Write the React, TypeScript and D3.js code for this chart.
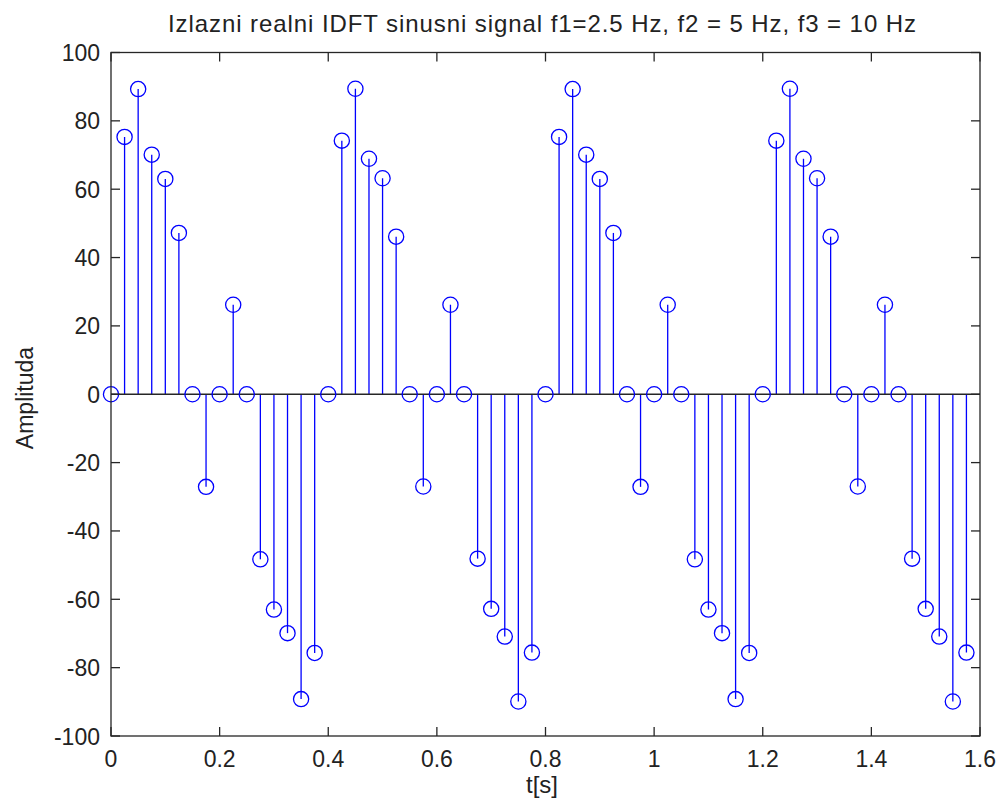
import React from "react";
import * as d3 from "d3";

const TITLE = "Izlazni realni IDFT sinusni signal f1=2.5 Hz, f2 = 5 Hz, f3 = 10 Hz";
const X_LABEL = "t[s]";
const Y_LABEL = "Amplituda";

const X_TICKS = [0, 0.2, 0.4, 0.6, 0.8, 1, 1.2, 1.4, 1.6];
const X_TICK_LABELS = ["0", "0.2", "0.4", "0.6", "0.8", "1", "1.2", "1.4", "1.6"];
const Y_TICKS = [-100, -80, -60, -40, -20, 0, 20, 40, 60, 80, 100];
const Y_TICK_LABELS = ["-100", "-80", "-60", "-40", "-20", "0", "20", "40", "60", "80", "100"];

const TIME = [
  0, 0.025, 0.05, 0.075, 0.1, 0.125, 0.15, 0.175, 0.2, 0.225, 0.25, 0.275, 0.3, 0.325, 0.35, 0.375,
  0.4, 0.425, 0.45, 0.475, 0.5, 0.525, 0.55, 0.575, 0.6, 0.625, 0.65, 0.675, 0.7, 0.725, 0.75, 0.775,
  0.8, 0.825, 0.85, 0.875, 0.9, 0.925, 0.95, 0.975, 1.0, 1.025, 1.05, 1.075, 1.1, 1.125, 1.15, 1.175,
  1.2, 1.225, 1.25, 1.275, 1.3, 1.325, 1.35, 1.375, 1.4, 1.425, 1.45, 1.475, 1.5, 1.525, 1.55, 1.575,
];

const AMPLITUDE = [
  0, 75.3, 89.3, 70.1, 63.0, 47.2, 0, -27.1, 0, 26.2, 0, -48.3, -63.0, -69.9, -89.2, -75.7,
  0, 74.2, 89.4, 68.9, 63.2, 46.1, 0, -27.0, 0, 26.2, 0, -48.1, -62.8, -70.9, -89.9, -75.6,
  0, 75.3, 89.3, 70.1, 63.0, 47.2, 0, -27.1, 0, 26.2, 0, -48.3, -63.0, -69.9, -89.2, -75.7,
  0, 74.2, 89.4, 68.9, 63.2, 46.1, 0, -27.0, 0, 26.2, 0, -48.1, -62.8, -70.9, -89.9, -75.6,
];

const W = 1001;
const H = 810;
const L = 111;
const R = 980;
const TOP = 52.5;
const BOT = 736;
const FONT = "'Liberation Sans', Arial, sans-serif";
const AXIS = "#262626";
const BLUE = "#0000ff";

export default function App() {
  const x = d3.scaleLinear().domain([0, 1.6]).range([L, R]);
  const y = d3.scaleLinear().domain([-100, 100]).range([BOT, TOP]);
  const tick = 9;
  const y0 = y(0);

  return (
    <svg
      width={W}
      height={H}
      viewBox={`0 0 ${W} ${H}`}
      style={{ position: "absolute", left: 0, top: 0, background: "#fff" }}
    >
      <rect x={0} y={0} width={W} height={H} fill="#fff" />
      {TIME.map((t, i) =>
        AMPLITUDE[i] !== 0 ? (
          <line
            key={"s" + i}
            x1={x(t)}
            x2={x(t)}
            y1={y0}
            y2={y(AMPLITUDE[i])}
            stroke={BLUE}
            strokeWidth={1.3}
          />
        ) : null
      )}
      <line x1={L} x2={R} y1={y0} y2={y0} stroke={AXIS} strokeWidth={1.3} />
      {TIME.map((t, i) => (
        <circle
          key={"c" + i}
          cx={x(t)}
          cy={y(AMPLITUDE[i])}
          r={7.6}
          fill="none"
          stroke={BLUE}
          strokeWidth={1.3}
        />
      ))}
      <rect x={L} y={TOP} width={R - L} height={BOT - TOP} fill="none" stroke={AXIS} strokeWidth={1.3} />
      {X_TICKS.map((v, i) => (
        <g key={"xt" + i}>
          <line x1={x(v)} x2={x(v)} y1={BOT} y2={BOT - tick} stroke={AXIS} strokeWidth={1.3} />
          <line x1={x(v)} x2={x(v)} y1={TOP} y2={TOP + tick} stroke={AXIS} strokeWidth={1.3} />
          <text x={x(v)} y={767} textAnchor="middle" fontFamily={FONT} fontSize={23} fill="#222">
            {X_TICK_LABELS[i]}
          </text>
        </g>
      ))}
      {Y_TICKS.map((v, i) => (
        <g key={"yt" + i}>
          <line x1={L} x2={L + tick} y1={y(v)} y2={y(v)} stroke={AXIS} strokeWidth={1.3} />
          <line x1={R} x2={R - tick} y1={y(v)} y2={y(v)} stroke={AXIS} strokeWidth={1.3} />
          <text x={100} y={y(v) + 8.5} textAnchor="end" fontFamily={FONT} fontSize={23} fill="#222">
            {Y_TICK_LABELS[i]}
          </text>
        </g>
      ))}
      <text
        x={168}
        y={32}
        textLength={748}
        lengthAdjust="spacing"
        fontFamily={FONT}
        fontSize={24}
        fill="#222"
      >
        {TITLE}
      </text>
      <text x={542} y={793} textAnchor="middle" fontFamily={FONT} fontSize={24} fill="#222">
        {X_LABEL}
      </text>
      <text
        transform={`translate(33, 398) rotate(-90)`}
        textAnchor="middle"
        fontFamily={FONT}
        fontSize={23}
        fill="#222"
      >
        {Y_LABEL}
      </text>
    </svg>
  );
}
